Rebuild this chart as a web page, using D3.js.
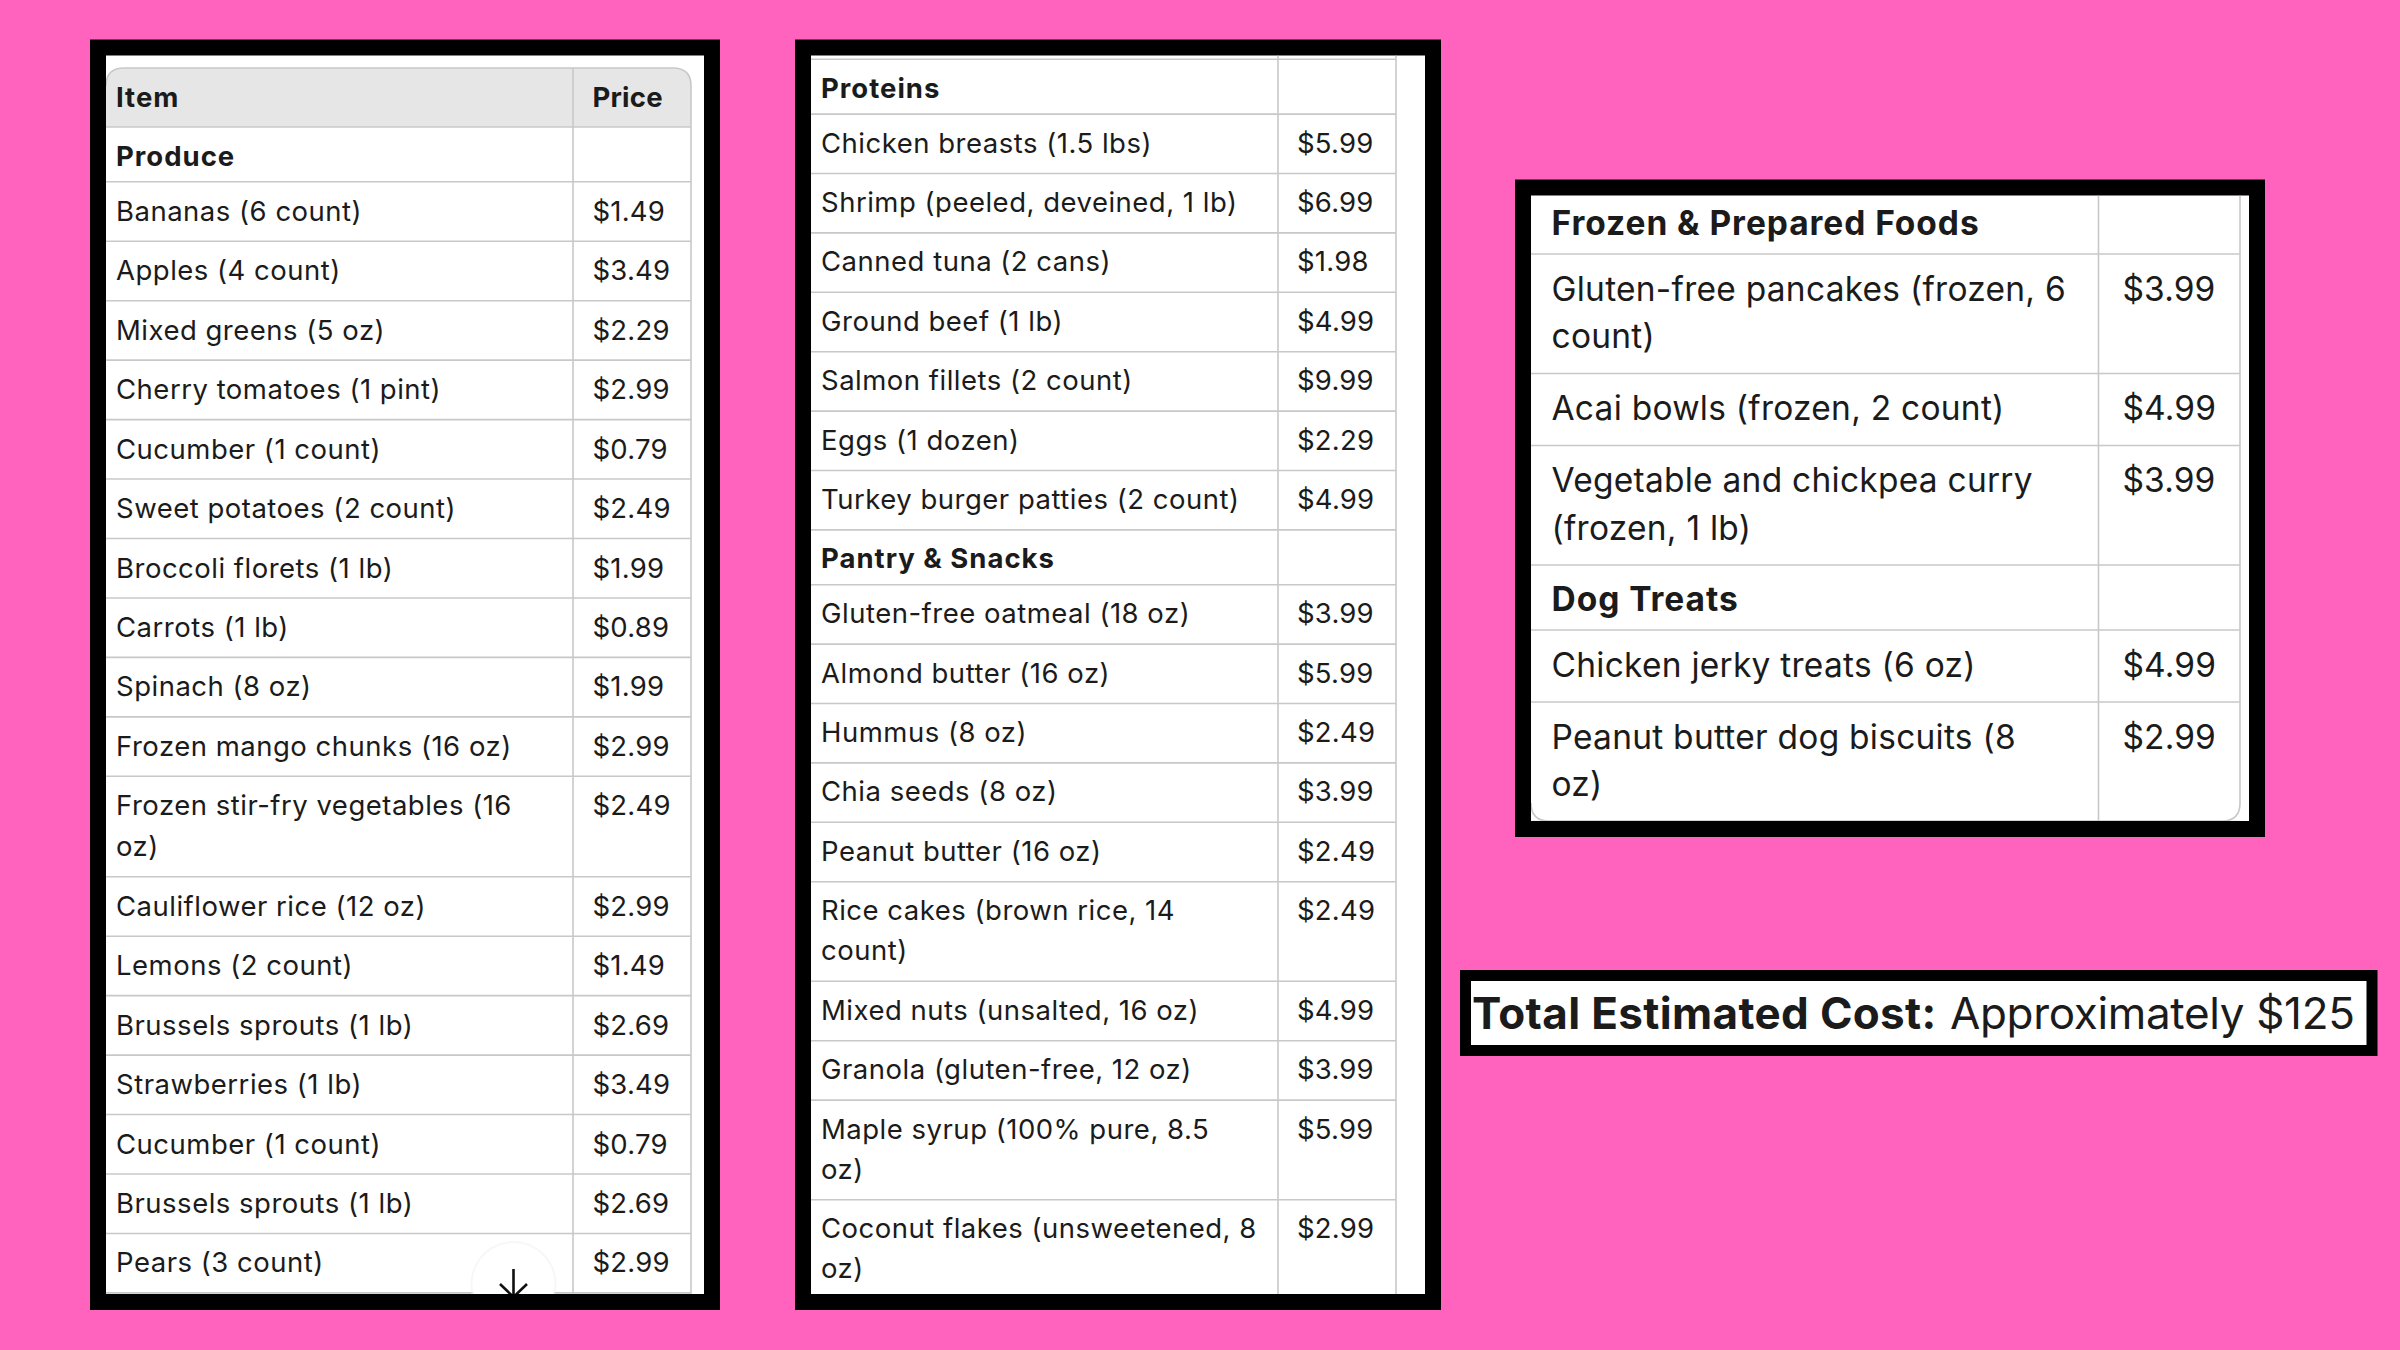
<!DOCTYPE html>
<html>
<head>
<title>Grocery list with prices - D3.js</title>
<script src="https://d3js.org/d3.v7.min.js"></script>
<style>
body { margin: 0; background: #ff63be; }
svg { display: block; }
text { font-family: Inter, "Noto Sans", sans-serif; fill: #1b1b1b; }
.grid { fill: none; stroke: #c8c8c8; stroke-width: 1.6px; }
.bold { font-weight: 700; }
</style>
</head>
<body>
<svg width="2400" height="1350"></svg>

<script>
const headerLabels = ["Item", "Price"];

// "\n" marks where the cell wraps in the screenshot
const produceItems = ["Bananas (6 count)", "Apples (4 count)", "Mixed greens (5 oz)", "Cherry tomatoes (1 pint)",
  "Cucumber (1 count)", "Sweet potatoes (2 count)", "Broccoli florets (1 lb)", "Carrots (1 lb)", "Spinach (8 oz)",
  "Frozen mango chunks (16 oz)", "Frozen stir-fry vegetables (16\noz)", "Cauliflower rice (12 oz)", "Lemons (2 count)",
  "Brussels sprouts (1 lb)", "Strawberries (1 lb)", "Cucumber (1 count)", "Brussels sprouts (1 lb)", "Pears (3 count)"];
const producePrices = [1.49, 3.49, 2.29, 2.99, 0.79, 2.49, 1.99, 0.89, 1.99, 2.99, 2.49, 2.99, 1.49, 2.69, 3.49, 0.79, 2.69, 2.99];

const proteinItems = ["Chicken breasts (1.5 lbs)", "Shrimp (peeled, deveined, 1 lb)", "Canned tuna (2 cans)",
  "Ground beef (1 lb)", "Salmon fillets (2 count)", "Eggs (1 dozen)", "Turkey burger patties (2 count)"];
const proteinPrices = [5.99, 6.99, 1.98, 4.99, 9.99, 2.29, 4.99];

const pantryItems = ["Gluten-free oatmeal (18 oz)", "Almond butter (16 oz)", "Hummus (8 oz)", "Chia seeds (8 oz)",
  "Peanut butter (16 oz)", "Rice cakes (brown rice, 14\ncount)", "Mixed nuts (unsalted, 16 oz)",
  "Granola (gluten-free, 12 oz)", "Maple syrup (100% pure, 8.5\noz)", "Coconut flakes (unsweetened, 8\noz)"];
const pantryPrices = [3.99, 5.99, 2.49, 3.99, 2.49, 2.49, 4.99, 3.99, 5.99, 2.99];

const frozenItems = ["Gluten-free pancakes (frozen, 6\ncount)", "Acai bowls (frozen, 2 count)",
  "Vegetable and chickpea curry\n(frozen, 1 lb)"];
const frozenPrices = [3.99, 4.99, 3.99];

const dogItems = ["Chicken jerky treats (6 oz)", "Peanut butter dog biscuits (8\noz)"];
const dogPrices = [4.99, 2.99];

const totalLabel = "Total Estimated Cost:";
const totalValue = "Approximately $125";

const money = d3.format("$.2f");
const svg = d3.select("svg");

// one section = a bold row and then its items
function section(title, items, prices) {
  return [{ label: title, bold: true, price: "" }]
    .concat(items.map((d, i) => ({ label: d, bold: false, price: money(prices[i]) })));
}

function frame(x0, y0, x1, y1, pad) {
  svg.append("rect").attr("x", x0).attr("y", y0).attr("width", x1 - x0).attr("height", y1 - y0).attr("fill", "#000");
  svg.append("rect").attr("x", x0 + pad).attr("y", y0 + pad).attr("width", x1 - x0 - pad * 2).attr("height", y1 - y0 - pad * 2).attr("fill", "#fff");
}

function drawTable(id, rows, o) {
  frame(o.frame[0], o.frame[1], o.frame[2], o.frame[3], 16);
  const left = o.frame[0] + 16, top = o.frame[1] + 16, bottom = o.frame[3] - 16;

  svg.append("clipPath").attr("id", id).append("rect")
    .attr("x", left).attr("y", top).attr("width", o.frame[2] - o.frame[0] - 32).attr("height", bottom - top);
  const g = svg.append("g").attr("clip-path", `url(#${id})`);

  rows.forEach(r => { r.lines = r.label.split("\n"); });

  const heights = rows.map((r, i) => {
    if (i === 0 && o.firstHeight) return o.firstHeight;
    if (r.header) return o.headerHeight;
    if (r.bold) return o.sectionHeight;
    return o.rowHeight + o.lineHeight * (r.lines.length - 1);
  });
  const tops = [o.rowsTop].concat(Array.from(d3.cumsum(heights)).map(h => o.rowsTop + h));
  const y = d3.scaleOrdinal().domain(d3.range(tops.length)).range(tops);
  const x = d3.scaleOrdinal().domain(["item", "price"]).range([o.textX, o.priceX]);

  // header band
  if (rows[0].header) {
    const p = d3.path(), r = o.radiusTop;
    p.moveTo(left, y(1)); p.lineTo(left, y(0) + r);
    p.quadraticCurveTo(left, y(0), left + r, y(0));
    p.lineTo(o.right - r, y(0));
    p.quadraticCurveTo(o.right, y(0), o.right, y(0) + r);
    p.lineTo(o.right, y(1)); p.closePath();
    g.append("path").attr("d", p.toString()).attr("fill", "#e6e6e6");
  }

  // row rules
  g.selectAll(".rule").data(rows).enter().append("line").attr("class", "grid")
    .attr("x1", left).attr("x2", o.right)
    .attr("y1", (d, i) => y(i + 1)).attr("y2", (d, i) => y(i + 1));
  if (o.topRule) g.append("line").attr("class", "grid").attr("x1", left).attr("x2", o.right).attr("y1", o.rowsTop).attr("y2", o.rowsTop);

  // outer outline and column divider
  const rt = o.radiusTop, rb = o.radiusBottom, yt = rows[0].header ? o.rowsTop : top, yb = o.outlineBottom;
  const path = d3.path();
  if (rt) {
    path.moveTo(left, yt + rt);
    path.quadraticCurveTo(left, yt, left + rt, yt);
    path.lineTo(o.right - rt, yt);
    path.quadraticCurveTo(o.right, yt, o.right, yt + rt);
  } else path.moveTo(o.right, yt);
  path.lineTo(o.right, yb - rb);
  if (rb) {
    path.quadraticCurveTo(o.right, yb, o.right - rb, yb);
    path.lineTo(left + rb, yb);
    path.quadraticCurveTo(left, yb, left, yb - rb);
  }
  g.append("path").attr("class", "grid").attr("d", path.toString());
  g.append("line").attr("class", "grid").attr("x1", o.divider).attr("x2", o.divider).attr("y1", yt).attr("y2", yb);

  const row = g.selectAll(".row").data(rows).enter().append("g").attr("class", "row");
  const label = row.append("text")
    .attr("class", d => d.bold ? "bold" : null)
    .attr("x", x("item"))
    .attr("y", (d, i) => y(i) + (d.bold ? o.boldBase : o.textBase) - (i === 0 && o.firstShift ? o.firstShift : 0))
    .style("font-size", o.size + "px")
    .style("letter-spacing", d => (d.bold ? o.boldSpacing : o.spacing) + "px");
  label.selectAll("tspan").data(d => d.lines).enter().append("tspan")
    .attr("x", x("item"))
    .attr("dy", (d, i) => i ? o.lineHeight : 0)
    .text(d => d);
  row.append("text")
    .attr("class", d => d.bold ? "bold" : null)
    .attr("x", x("price"))
    .attr("y", (d, i) => y(i) + (d.bold ? o.boldBase : o.textBase))
    .style("font-size", o.size + "px")
    .style("letter-spacing", o.priceSpacing + "px")
    .text(d => d.price);
  return g;
}

const rowsLeft = [{ label: headerLabels[0], price: headerLabels[1], bold: true, header: true }]
  .concat(section("Produce", produceItems, producePrices));
const gLeft = drawTable("clipLeft", rowsLeft, {
  frame: [90, 39.5, 720, 1310], right: 691, divider: 573, textX: 116, priceX: 592.5,
  rowsTop: 68, headerHeight: 59, sectionHeight: 54.8, rowHeight: 59.45, lineHeight: 41,
  size: 27.5, spacing: 0.5, priceSpacing: 0.2, boldSpacing: 1, textBase: 39, boldBase: 38.5,
  radiusTop: 18, radiusBottom: 0, outlineBottom: 1294
});

// scroll-to-bottom button, cut off by the screenshot edge
gLeft.append("circle").attr("cx", 513.5).attr("cy", 1284).attr("r", 43).attr("fill", "#f2f2f2").attr("opacity", 0.6);
gLeft.append("circle").attr("cx", 513.5).attr("cy", 1284).attr("r", 41).attr("fill", "#fff");
gLeft.append("path").attr("d", "M513.5 1269V1296M500 1284L513.5 1297L527 1284")
  .attr("fill", "none").attr("stroke", "#111").attr("stroke-width", 2.6);

const rowsMiddle = section("Proteins", proteinItems, proteinPrices)
  .concat(section("Pantry & Snacks", pantryItems, pantryPrices));
drawTable("clipMiddle", rowsMiddle, {
  frame: [795, 39.5, 1441, 1310], right: 1396, divider: 1278, textX: 821, priceX: 1297,
  rowsTop: 59.3, headerHeight: 59, sectionHeight: 54.8, rowHeight: 59.4, lineHeight: 40.2,
  size: 27.5, spacing: 0.5, priceSpacing: 0.2, boldSpacing: 1, textBase: 38.5, boldBase: 38.5,
  radiusTop: 0, radiusBottom: 0, outlineBottom: 1294, topRule: true
});

const rowsRight = section("Frozen & Prepared Foods", frozenItems, frozenPrices)
  .concat(section("Dog Treats", dogItems, dogPrices));
drawTable("clipRight", rowsRight, {
  frame: [1515, 179.5, 2265, 837], right: 2240, divider: 2098.5, textX: 1551.5, priceX: 2122.5,
  rowsTop: 195.5, firstHeight: 58.5, headerHeight: 59, sectionHeight: 65, rowHeight: 72, lineHeight: 47.5,
  size: 33.5, spacing: 0.25, priceSpacing: 0.12, boldSpacing: 0.95, textBase: 46.5, boldBase: 46, firstShift: 7,
  radiusTop: 0, radiusBottom: 18, outlineBottom: 821
});

// total box
frame(1460, 970, 2377.5, 1056, 11);
svg.append("text").attr("class", "bold").attr("x", 1472).attr("y", 1029).style("font-size", "44px").style("letter-spacing", "0.35px").text(totalLabel);
svg.append("text").attr("x", 1950).attr("y", 1029).style("font-size", "44px").style("letter-spacing", "-0.34px").text(totalValue);
</script>
</body>
</html>
